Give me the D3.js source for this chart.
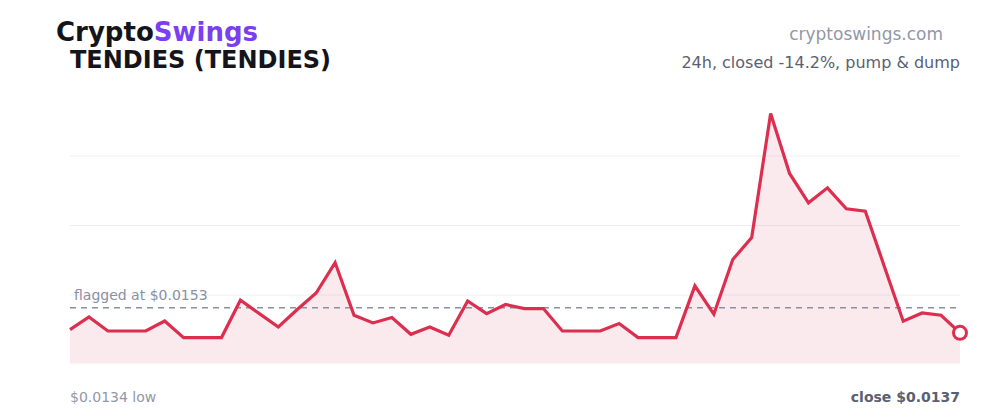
<!DOCTYPE html>
<html>
<head>
<meta charset="utf-8">
<script src="https://cdn.jsdelivr.net/npm/d3@7"></script>
<style>
  html, body { margin: 0; padding: 0; background: #fff; }
  svg { display: block; font-family: "DejaVu Sans", sans-serif; }
</style>
</head>
<body>
<svg id="chart" width="1000" height="420"></svg>
<script>
// price samples over 24h (48 points)
const prices = [
    0.01391, 0.01471, 0.01382, 0.01382, 0.01382, 0.01445, 0.01340, 0.01340,
    0.01340, 0.01577, 0.01492, 0.01407, 0.01518, 0.01623, 0.01816, 0.01482,
    0.01433, 0.01467, 0.01361, 0.01407, 0.01355, 0.01572, 0.01492, 0.01550,
    0.01524, 0.01524, 0.01382, 0.01382, 0.01382, 0.01429, 0.01340, 0.01340,
    0.01340, 0.01668, 0.01488, 0.01835, 0.01975, 0.02762, 0.02381, 0.02195,
    0.02290, 0.02157, 0.02142, 0.01793, 0.01444, 0.01496, 0.01482, 0.01370
];
const flaggedPrice = 0.0153;
const brand = ["Crypto", "Swings"];
const title = "TENDIES (TENDIES)";
const site = "cryptoswings.com";
const subtitle = "24h, closed -14.2%, pump & dump";
const lowLabel = "$0.0134 low";
const closeLabel = "close $0.0137";
const flagLabel = "flagged at $0.0153";

const LINE = "#dc2f50";
const svg = d3.select("#chart");

const plot = { left: 70, right: 960, top: 86.5, bottom: 364.5 };

const lo = d3.min(prices), hi = d3.max(prices);
const pad = (hi - lo) * 0.12;

const x = d3.scaleLinear()
    .domain([0, prices.length - 1])
    .range([plot.left, plot.right]);

const y = d3.scaleLinear()
    .domain([lo - pad, hi + pad])
    .range([plot.bottom, plot.top]);

// gridlines at quarters
const gridVals = [0.25, 0.5, 0.75].map(f => y.invert(plot.bottom - f * (plot.bottom - plot.top)));
svg.append("g").selectAll("line")
    .data(gridVals)
    .enter()
    .append("line")
    .attr("x1", plot.left)
    .attr("x2", plot.right)
    .attr("y1", d => y(d))
    .attr("y2", d => y(d))
    .attr("stroke", "#eeeef2")
    .attr("stroke-width", 1);

// area under the line
const area = d3.area()
    .x((d, i) => x(i))
    .y0(plot.bottom - 1)
    .y1(d => y(d));

svg.append("path")
    .datum(prices)
    .attr("d", area)
    .attr("fill", LINE)
    .attr("fill-opacity", 0.1);

// flagged price reference
svg.append("line")
    .attr("x1", plot.left)
    .attr("x2", plot.right)
    .attr("y1", y(flaggedPrice))
    .attr("y2", y(flaggedPrice))
    .attr("stroke", "#8a90a2")
    .attr("stroke-width", 1.5)
    .attr("stroke-dasharray", "6,5");

svg.append("text")
    .attr("x", plot.left + 4)
    .attr("y", y(flaggedPrice) - 8)
    .attr("fill", "#8a90a2")
    .style("font-size", "14px")
    .text(flagLabel);

// price line
const line = d3.line()
    .x((d, i) => x(i))
    .y(d => y(d));

svg.append("path")
    .datum(prices)
    .attr("d", line)
    .attr("fill", "none")
    .attr("stroke", LINE)
    .attr("stroke-width", 3.2)
    .attr("stroke-linejoin", "miter");

// last point marker
const lastIdx = prices.length - 1;
svg.append("circle")
    .attr("cx", x(lastIdx))
    .attr("cy", y(prices[lastIdx]))
    .attr("r", 6.5)
    .attr("fill", "#fff")
    .attr("stroke", LINE)
    .attr("stroke-width", 3);

// header
const brandText = svg.append("text")
    .attr("x", 56)
    .attr("y", 41)
    .style("font-size", "26px")
    .style("font-weight", "bold");
brandText.append("tspan").attr("fill", "#14141a").text(brand[0]);
brandText.append("tspan").attr("fill", "#7b3ff2").text(brand[1]);

svg.append("text")
    .attr("x", 70)
    .attr("y", 68)
    .attr("fill", "#14141a")
    .style("font-size", "24px")
    .style("font-weight", "bold")
    .text(title);

svg.append("text")
    .attr("x", 943)
    .attr("y", 40)
    .attr("text-anchor", "end")
    .attr("fill", "#9198a8")
    .style("font-size", "17px")
    .text(site);

svg.append("text")
    .attr("x", 960)
    .attr("y", 68)
    .attr("text-anchor", "end")
    .attr("fill", "#5a6072")
    .style("font-size", "16px")
    .text(subtitle);

// footer
svg.append("text")
    .attr("x", 70)
    .attr("y", 402)
    .attr("fill", "#9198a8")
    .style("font-size", "14px")
    .text(lowLabel);

svg.append("text")
    .attr("x", 960)
    .attr("y", 402)
    .attr("text-anchor", "end")
    .attr("fill", "#5a6072")
    .style("font-size", "14px")
    .style("font-weight", "bold")
    .text(closeLabel);
</script>
</body>
</html>
